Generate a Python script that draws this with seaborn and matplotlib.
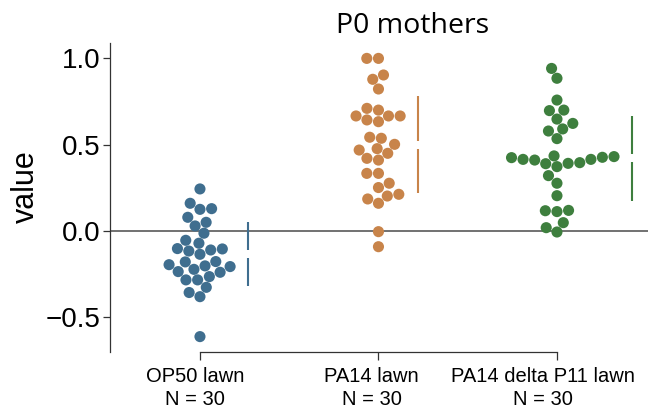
import numpy as np
import pandas as pd
import seaborn as sns
import matplotlib.pyplot as plt
from matplotlib.transforms import ScaledTranslation

# Measured values per condition
groups = ["OP50 lawn", "PA14 lawn", "PA14 delta P11 lawn"]
op50_lawn = [0.243, 0.129, 0.125, 0.160, 0.050, 0.079, 0.029, -0.013, -0.071, -0.054,
             -0.104, -0.110, -0.135, -0.116, -0.102, -0.177, -0.179, -0.206, -0.195, -0.202,
             -0.222, -0.239, -0.235, -0.264, -0.283, -0.283, -0.326, -0.356, -0.380, -0.611]
pa14_lawn = [0.998, 0.998, 0.877, 0.902, 0.821, 0.709, 0.699, 0.665, 0.642, 0.632,
             0.665, 0.665, 0.542, 0.536, 0.468, 0.476, 0.501, 0.449, 0.420, 0.410,
             0.333, 0.333, 0.276, 0.251, 0.185, 0.160, 0.202, 0.212, -0.004, -0.091]
pa14_dp11_lawn = [0.940, 0.883, 0.757, 0.696, 0.699, 0.647, 0.622, 0.578, 0.590, 0.534,
                  0.430, 0.424, 0.414, 0.410, 0.389, 0.434, 0.372, 0.391, 0.395, 0.414,
                  0.426, 0.320, 0.276, 0.204, 0.117, 0.112, 0.119, 0.048, 0.019, -0.006]
series = [op50_lawn, pa14_lawn, pa14_dp11_lawn]
palette = ["#3F6E8F", "#C8844A", "#3E7F3E"]
yticks = [-0.5, 0.0, 0.5, 1.0]

df = pd.DataFrame({
    "group": np.repeat(groups, [len(s) for s in series]),
    "value": np.concatenate(series),
})

sns.set_style("ticks")
plt.rcParams["font.family"] = ["Liberation Sans", "DejaVu Sans"]
plt.rcParams["text.color"] = "black"
plt.rcParams["axes.labelcolor"] = "black"
plt.rcParams["xtick.labelcolor"] = "black"
plt.rcParams["ytick.labelcolor"] = "black"

W, H = 648, 418
fig = plt.figure(figsize=(W / 100, H / 100), dpi=100)
ax = fig.add_axes([110 / W, 1 - 352 / H, (W - 110) / W, (352 - 43) / H])

ax.axhline(0, color="#4a4a4a", lw=1.1, zorder=0)
sns.swarmplot(data=df, x="group", y="value", hue="group", order=groups,
              hue_order=groups, palette=palette, size=8, linewidth=0,
              legend=False, ax=ax)

ax.set_xlim(-0.504, 2.51)
ax.set_ylim(-0.70, 1.087)

# Resolve swarm layout, then place mean +/- SD gapped lines beside each swarm
fig.canvas.draw()
gap = 0.022
for coll in ax.collections:
    offs = coll.get_offsets()
    if len(offs) == 0:
        continue
    idx = int(round(np.median(offs[:, 0])))
    vals = np.asarray(series[idx])
    m, sd = vals.mean(), vals.std(ddof=1)
    xpos = offs[:, 0].max() + 0.1
    ax.vlines([xpos, xpos], [m + gap, m - sd], [m + sd, m - gap],
              color=palette[idx], lw=1.5, zorder=3)

# Axes styling
for side in ("top", "right"):
    ax.spines[side].set_visible(False)
ax.spines["bottom"].set_bounds(0, len(groups) - 1)
for side in ("left", "bottom"):
    ax.spines[side].set_color("#333333")
    ax.spines[side].set_linewidth(0.9)

ax.set_yticks(yticks)
ax.set_yticklabels([f"{t:.1f}".replace("-", "\u2212") for t in yticks])
ax.set_xticks(range(len(groups)))
ax.set_xticklabels([f"{g}\nN = {len(s)}" for g, s in zip(groups, series)],
                   linespacing=1.25)
ax.tick_params(axis="y", labelsize=20, length=5, width=0.9, pad=2,
               color="#333333", labelcolor="black")
ax.tick_params(axis="x", labelsize=14.5, length=6, width=0.9, pad=5,
               color="#333333", labelcolor="black")

# nudge category labels leftward so the long last label stays inside the figure
for lab, dx in zip(ax.get_xticklabels(), [-5, -7, -14]):
    lab.set_transform(lab.get_transform() + ScaledTranslation(dx / 100, 0, fig.dpi_scale_trans))

ax.set_xlabel("")
ax.set_ylabel("value", fontsize=22, color="black")
ax.yaxis.set_label_coords(-0.128, 0.535)

ax.set_title("P0 mothers", fontsize=20.5, family=["Open Sans", "DejaVu Sans"],
             x=0.562, pad=7, color="black")

fig.savefig("out.png", dpi=100)
